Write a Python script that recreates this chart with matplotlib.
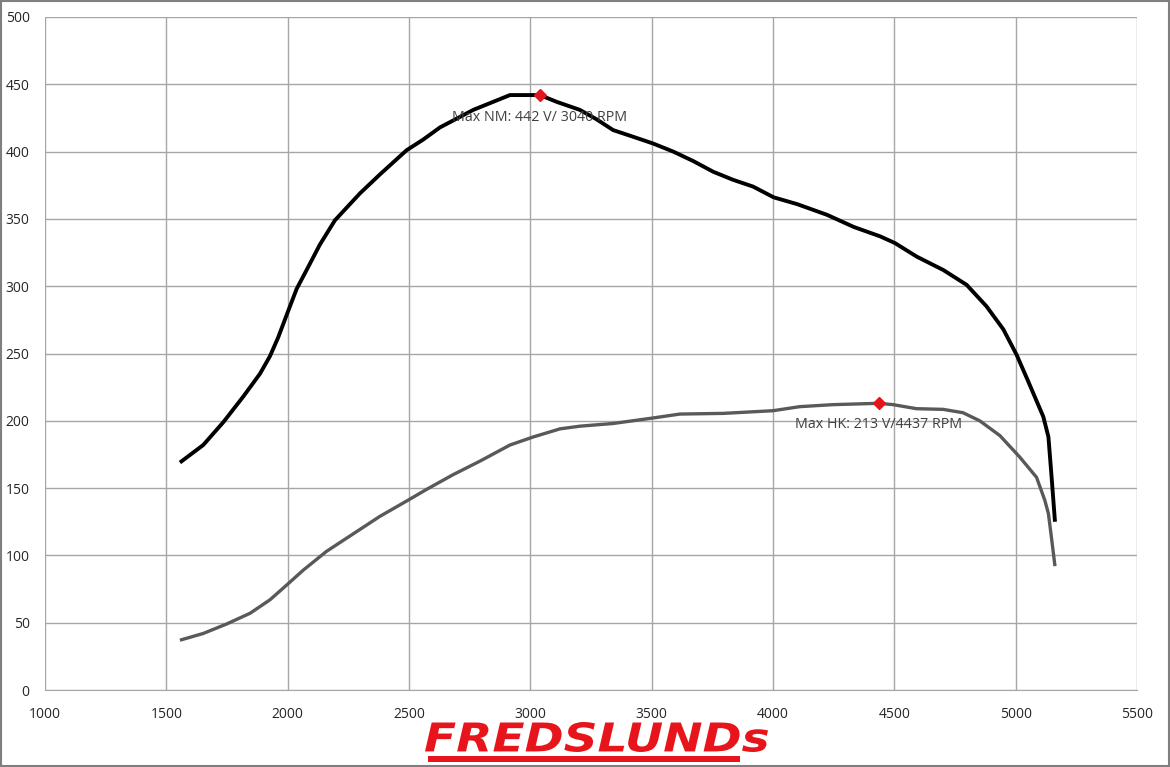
import matplotlib
matplotlib.use("Agg")
import matplotlib.pyplot as plt
from matplotlib.patches import Rectangle, PathPatch
from matplotlib.textpath import TextPath
from matplotlib.font_manager import FontProperties
from matplotlib.transforms import Affine2D

# torque curve (black)
rpm_nm = [1556, 1652, 1735, 1817, 1886, 1927, 1961, 2003, 2037, 2078, 2133, 2195,
          2298, 2380, 2490, 2559, 2628, 2765, 2916, 2998, 3040, 3108, 3204, 3273,
          3341, 3424, 3506, 3589, 3671, 3754, 3836, 3918, 4003, 4099, 4223, 4333,
          4442, 4503, 4592, 4702, 4798, 4880, 4949, 5004, 5050, 5114, 5135, 5149,
          5162]
nm = [169, 182, 199, 218, 235, 248, 262, 282, 298, 312, 331, 349,
      369, 383, 401, 409, 418, 431, 442, 442, 442, 437, 431, 424,
      416, 411, 406, 400, 393, 385, 379, 374, 366, 361, 353, 344,
      337, 332, 322, 312, 301, 285, 268, 249, 230, 203, 188, 156,
      125]

# power curve (grey)
rpm_hk = [1556, 1652, 1748, 1845, 1927, 1996, 2064, 2160, 2270, 2380, 2496, 2572,
          2682, 2792, 2916, 3012, 3122, 3204, 3341, 3502, 3616, 3794, 4000, 4110,
          4247, 4437, 4495, 4591, 4701, 4783, 4852, 4935, 5017, 5086, 5120, 5135,
          5149, 5162]
hk = [37, 42, 49, 57, 67, 78, 89, 103, 116, 129, 141, 149,
      160, 170, 182, 188, 194, 196, 198, 202, 205, 205.5, 207.5, 210.5,
      212, 213, 212, 209, 208.5, 206, 200, 189, 173, 158, 141, 131,
      111, 92]

max_nm = (3040, 442)
max_hk = (4437, 213)
label_nm = "Max NM: 442 V/ 3040 RPM"
label_hk = "Max HK: 213 V/4437 RPM"

plt.rcParams['font.family'] = ['Open Sans', 'DejaVu Sans']

W, H = 1170, 767
fig = plt.figure(figsize=(W/100, H/100), dpi=100)
ax = fig.add_axes([45/W, 1-690/H, (1137-45)/W, (690-17)/H])

ax.plot(rpm_hk, hk, color='#595959', lw=2.4, solid_capstyle='butt', solid_joinstyle='round', zorder=3)
ax.plot(rpm_nm, nm, color='black', lw=2.8, solid_capstyle='butt', solid_joinstyle='round', zorder=3)
ax.plot(*max_nm, marker='D', color='#e8141c', ms=6, zorder=4)
ax.plot(*max_hk, marker='D', color='#e8141c', ms=6, zorder=4)
ax.annotate(label_nm, max_nm, xytext=(0, -16), textcoords='offset points',
            ha='center', va='center', fontsize=10.3, color='#404040', zorder=5)
ax.annotate(label_hk, max_hk, xytext=(0, -15), textcoords='offset points',
            ha='center', va='center', fontsize=10.3, color='#404040', zorder=5)

ax.set_xlim(1000, 5500)
ax.set_ylim(0, 500)
ax.set_xticks(range(1000, 5501, 500))
ax.set_yticks(range(0, 501, 50))
ax.grid(True, color='#a6a6a6', lw=1)
ax.set_axisbelow(True)
for s in ['top', 'right', 'left']:
    ax.spines[s].set_visible(False)
ax.spines['bottom'].set_color('#a6a6a6')
ax.tick_params(length=0, labelsize=10, colors='#262626')
ax.tick_params(axis='x', pad=12)
ax.tick_params(axis='y', pad=11)

# logo, stretched to the box it fills in the reference
tp = TextPath((0, 0), "FREDSLUNDs", size=10,
              prop=FontProperties(family='DejaVu Sans', weight='bold', style='oblique'))
ext = tp.get_extents()
x0, x1, y0, y1 = 425, 768, 15, 45
sx = (x1 - x0) / ext.width
sy = (y1 - y0) / ext.height
tr = Affine2D().translate(-ext.x0, -ext.y0).scale(sx / W, sy / H).translate(x0 / W, y0 / H)
fig.add_artist(PathPatch(tr.transform_path(tp), color='#e8141c', lw=0, transform=fig.transFigure))
fig.add_artist(Rectangle((428/W, 5/H), 312/W, 6/H, color='#e8141c', lw=0,
                         transform=fig.transFigure))

fig.add_artist(Rectangle((0.001, 0.001), 0.998, 0.998, fill=False, ec='#7f7f7f', lw=1.5,
                         transform=fig.transFigure))

fig.savefig("out.png", dpi=100)
